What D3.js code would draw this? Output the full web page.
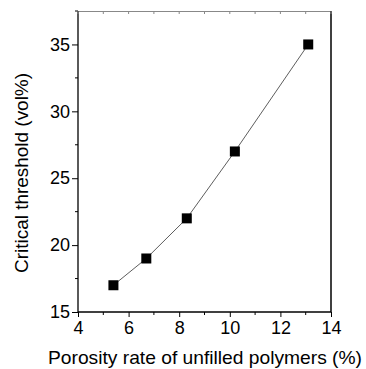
<!DOCTYPE html>
<html><head><meta charset="utf-8">
<script src="https://cdn.jsdelivr.net/npm/d3@7"></script>
<style>body{margin:0;background:#fff}svg{display:block}text{font-family:"Liberation Sans",Arial,sans-serif;fill:#000}</style>
</head><body>
<svg id="c" width="366" height="369"></svg>
<script>
const porosity = [5.4, 6.7, 8.3, 10.2, 13.1];
const threshold = [17, 19, 22, 27, 35];
const xTicks = [4, 6, 8, 10, 12, 14];
const yTicks = [15, 20, 25, 30, 35];
const xMinor = [5, 7, 9, 11, 13];
const yMinor = [17.5, 22.5, 27.5, 32.5, 37.5];

const svg = d3.select("#c");
const L = 78, R = 331, T = 11, B = 312;
const x = d3.scaleLinear().domain([4, 14]).range([L, R]);
const y = d3.scaleLinear().domain([15, 37.5]).range([B, T]);

// frame
svg.append("line").attr("x1", L).attr("x2", R).attr("y1", T + 0.5).attr("y2", T + 0.5).attr("stroke", "#888").attr("stroke-width", 1);
svg.append("line").attr("x1", R).attr("x2", R).attr("y1", T).attr("y2", B).attr("stroke", "#000").attr("stroke-width", 1.5);

const xa = svg.append("g").attr("transform", `translate(0,${B})`)
  .call(d3.axisBottom(x).tickValues(xTicks).tickSize(5).tickPadding(4).tickFormat(d3.format("d")));
xa.append("g").selectAll("line").data(xMinor).join("line")
  .attr("x1", d => x(d)).attr("x2", d => x(d)).attr("y1", 0).attr("y2", 3).attr("stroke", "#000");
const ya = svg.append("g").attr("transform", `translate(${L},0)`)
  .call(d3.axisLeft(y).tickValues(yTicks).tickSize(6).tickPadding(2).tickFormat(d3.format("d")));
ya.append("g").selectAll("line").data(yMinor).join("line")
  .attr("y1", d => y(d)).attr("y2", d => y(d)).attr("x1", 0).attr("x2", -3).attr("stroke", "#000");
[xa, ya].forEach(a => {
  a.select(".domain").attr("stroke", "#000").attr("stroke-width", 1.3);
  a.selectAll(".tick line").attr("stroke", "#000");
  a.selectAll("text").attr("font-size", 18).attr("font-family", '"Liberation Sans",Arial,sans-serif');
});
xa.select(".domain").attr("d", `M${L},0H${R}`);
ya.select(".domain").attr("d", `M0,${T}V${B}`);
// top minor ticks
svg.append("g").selectAll("line").data(xTicks.concat(xMinor)).join("line")
  .attr("x1", d => x(d)).attr("x2", d => x(d)).attr("y1", T).attr("y2", T + 3).attr("stroke", "#888");

const pts = porosity.map((p, i) => [p, threshold[i]]);
svg.append("path").datum(pts)
  .attr("d", d3.line().x(d => x(d[0])).y(d => y(d[1])))
  .attr("fill", "none").attr("stroke", "#333").attr("stroke-width", 0.8);
const s = 10;
svg.append("g").selectAll("rect").data(pts).join("rect")
  .attr("x", d => x(d[0]) - s / 2).attr("y", d => y(d[1]) - s / 2)
  .attr("width", s).attr("height", s).attr("fill", "#000");

svg.append("text").attr("x", 205).attr("y", 364).attr("text-anchor", "middle")
  .attr("font-size", 19).attr("textLength", 314).attr("lengthAdjust", "spacingAndGlyphs")
  .text("Porosity rate of unfilled polymers (%)");
svg.append("text").attr("transform", `translate(28,173) rotate(-90)`).attr("text-anchor", "middle")
  .attr("font-size", 17.5).attr("textLength", 200).attr("lengthAdjust", "spacingAndGlyphs")
  .text("Critical threshold (vol%)");
</script>
</body></html>
